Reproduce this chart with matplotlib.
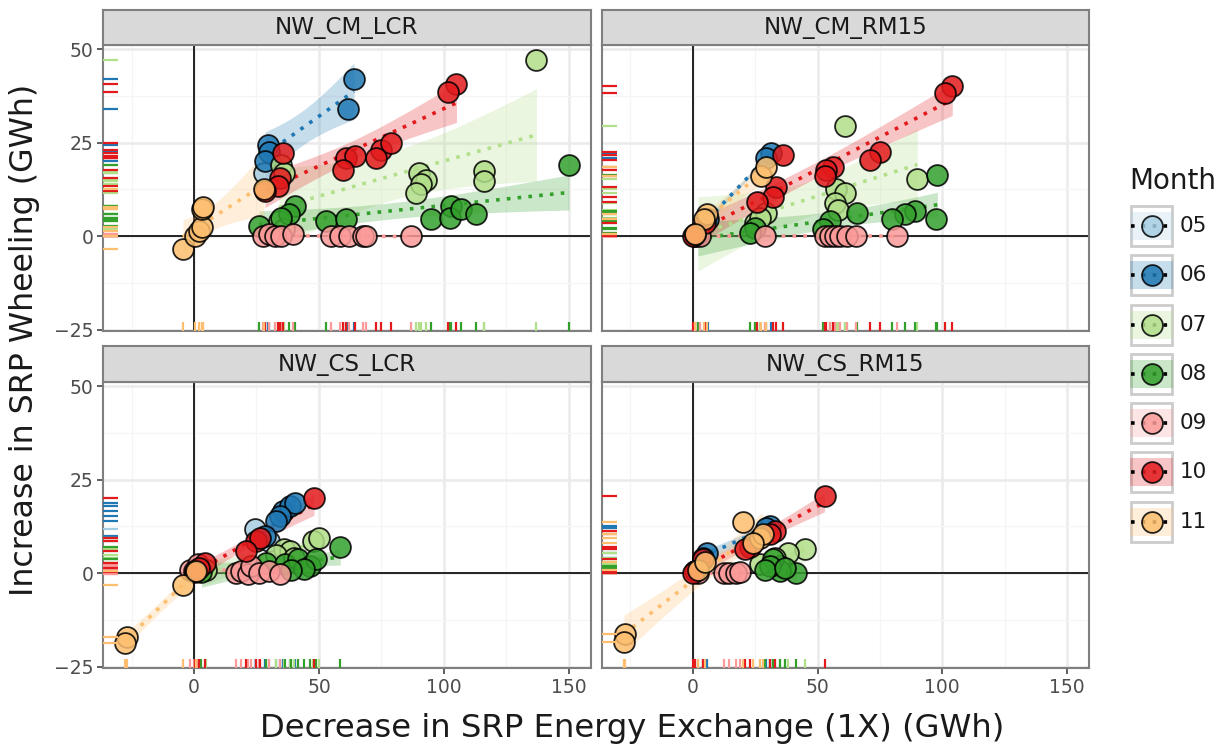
import numpy as np
import matplotlib
matplotlib.use("Agg")
import matplotlib.pyplot as plt
from matplotlib.patches import Rectangle

W, H = 1231, 746

months = ['05', '06', '07', '08', '09', '10', '11']
month_colors = ['#A6CEE3', '#1F78B4', '#B2DF8A', '#33A02C', '#FB9A99', '#E31A1C', '#FDBF6F']

panel_names = ['NW_CM_LCR', 'NW_CM_RM15', 'NW_CS_LCR', 'NW_CS_RM15']

# (decrease in energy exchange, increase in wheeling) per month, GWh
nw_cm_lcr = {
    '05': [(28, 17)],
    '06': [(64, 42), (61.5, 34), (29.5, 24.5), (30, 22.5), (28.5, 20)],
    '07': [(35, 19), (36, 17), (34, 4), (36, 2), (90, 17), (93, 15), (91, 14), (89, 11.5),
           (116, 17.4), (116, 14.7), (137, 47)],
    '08': [(26, 2.7), (40.5, 8.1), (38, 6), (35, 5), (53, 4), (61, 4.5), (95, 4.5), (103, 8),
           (102.5, 5), (107, 7.2), (113, 6), (150, 19)],
    '09': [(27.5, 0), (30, 0.5), (32.5, 0), (35, 0), (39.5, 0.5), (55, 0), (58.5, 0), (62, 0),
           (67.5, 0), (69, 0), (87, 0)],
    '10': [(105, 40.7), (101.7, 38.6), (35.7, 22.3), (34.4, 15.6), (33.7, 13.4), (28.4, 12),
           (61, 20.9), (64.4, 21.5), (59.7, 17.8), (75, 23.1), (79, 24.9), (73, 20.9)],
    '11': [(-4.4, -3.5), (0.4, 0), (2, 1.5), (3.1, 2.4), (3.1, 7.2), (3.5, 7.8), (28, 12.5)],
}

nw_cm_rm15 = {
    '05': [(1, 0)],
    '06': [(31.5, 22.3), (29.5, 21), (6, 4.5)],
    '07': [(61, 29.5), (90, 15.3), (57.5, 12.5), (61, 11.5), (57, 9), (58, 7), (25, 3.5),
           (29.5, 6.3), (27, 5), (2, 1)],
    '08': [(98, 16.3), (97.5, 4.7), (89, 6.7), (85, 6), (80, 4.5), (66, 6.1), (55, 4.1),
           (52, 2), (25, 2.3), (23, 1), (2, 0.5)],
    '09': [(1, 0), (3, 0), (28.8, 0), (53, 0), (55, 0), (57, 0), (59, 0), (62, 0), (65.5, 0),
           (82, 0)],
    '10': [(104, 40.2), (101, 38.2), (75, 22.4), (71, 20.3), (56, 18.4), (53.5, 17.8), (53, 16),
           (36, 21.7), (33.5, 13.3), (32, 10.6), (25.7, 9.1), (5, 3.6), (0, 0), (1, 0.5)],
    '11': [(27.5, 16), (29.5, 18.5), (5.5, 6), (4.5, 4.5), (1, 0.5)],
}

nw_cs_lcr = {
    '05': [(24.4, 11.7), (30, 8.6)],
    '06': [(35.7, 16.6), (38.4, 17.9), (40.5, 18.8), (34.4, 15.2), (33, 14), (28.5, 10)],
    '07': [(47.7, 8.6), (50, 9.5), (36, 6.4), (38.4, 5.9), (33, 5), (40, 4), (5, 0.8)],
    '08': [(58.5, 7), (29, 2.8), (36.5, 2.4), (41.7, 3.7), (46.4, 1.9), (49, 3.7), (44, 1.2),
           (39, 0.8), (3, 0.3)],
    '09': [(17, 0.2), (19, 0.5), (21.7, -0.3), (23, 2), (26, 0), (30, 0.5), (34.4, -0.3),
           (-1.5, 1), (1.7, 2.4), (0, 0.5)],
    '10': [(48, 20), (25, 8.6), (26.5, 9.5), (21, 6), (4.4, 2.8), (2, 1.5), (0.5, 0.3)],
    '11': [(-27, -17), (-27.5, -18.6), (-4.3, -3.2), (1, 0.5)],
}

nw_cs_rm15 = {
    '05': [(1, 0.5)],
    '06': [(31, 12.6), (29.5, 12), (5.5, 5.5), (4, 4)],
    '07': [(45, 6.4), (38, 5.5), (27, 2.4), (33, 4), (35, 2)],
    '08': [(41.5, 0.2), (35, 0.5), (32, 3.7), (31, 2), (29, 1), (37, 1.5)],
    '09': [(12.5, 0), (14.5, 0), (17.5, 0), (19, 0.3), (2, 0)],
    '10': [(52.8, 20.6), (33, 11.3), (31, 10.5), (23, 7), (21, 6.4), (4, 3.7), (0.8, 0.6), (0, 0)],
    '11': [(-27.2, -16.2), (-27.6, -18.4), (20, 13.7), (27, 9.5), (28, 10.5), (24, 8), (2, 1),
           (5, 3)],
}

panel_data = [nw_cm_lcr, nw_cm_rm15, nw_cs_lcr, nw_cs_rm15]

x_ticks = [0, 50, 100, 150]
y_ticks = [-25, 0, 25, 50]

# t quantiles (0.975) for the lm confidence band
T975 = {1: 12.706, 2: 4.303, 3: 3.182, 4: 2.776, 5: 2.571, 6: 2.447, 7: 2.365, 8: 2.306,
        9: 2.262, 10: 2.228, 11: 2.201, 12: 2.179, 13: 2.160, 14: 2.145, 15: 2.131}


def lm_band(x, y, n_grid=80):
    x = np.asarray(x, float)
    y = np.asarray(y, float)
    n = len(x)
    b, a = np.polyfit(x, y, 1)
    xs = np.linspace(x.min(), x.max(), n_grid)
    ys = a + b * xs
    if n < 3:
        return xs, ys, None
    resid = y - (a + b * x)
    s = np.sqrt(np.sum(resid ** 2) / (n - 2))
    sxx = np.sum((x - x.mean()) ** 2)
    se = s * np.sqrt(1.0 / n + (xs - x.mean()) ** 2 / sxx)
    return xs, ys, T975.get(n - 2, 2.1) * se


fig = plt.figure(figsize=(W / 100, H / 100), dpi=100)


def px_axes(x0, y0, x1, y1):
    return fig.add_axes([x0 / W, 1 - y1 / H, (x1 - x0) / W, (y1 - y0) / H])


panel_px = [(103, 45, 591, 331), (602, 45, 1089, 331),
            (103, 382, 591, 668), (602, 382, 1089, 668)]
strip_px = [(103, 10, 591, 45), (602, 10, 1089, 45),
            (103, 346, 591, 382), (602, 346, 1089, 382)]

border = '#7F7F7F'
pt_size = 225

for i, (name, data) in enumerate(zip(panel_names, panel_data)):
    ax = px_axes(*panel_px[i])
    ax.set_xlim(-36.4, 158.8)
    ax.set_ylim(-25.3, 51.1)
    ax.set_xticks(x_ticks)
    ax.set_yticks(y_ticks)
    ax.set_xticks([-25, 25, 75, 125], minor=True)
    ax.set_yticks([-12.5, 12.5, 37.5], minor=True)
    ax.grid(True, which='major', color='#EBEBEB', lw=1.8, zorder=0)
    ax.grid(True, which='minor', color='#F5F5F5', lw=0.9, zorder=0)
    ax.set_axisbelow(True)
    for sp in ax.spines.values():
        sp.set_color(border)
        sp.set_linewidth(1.5)
    ax.tick_params(which='minor', length=0)
    ax.tick_params(which='major', length=4, width=1.1, color='#333333',
                   labelsize=13.5, labelcolor='#4D4D4D', pad=3)
    if i % 2 == 1:
        ax.tick_params(axis='y', which='major', length=0, labelleft=False)
    if i < 2:
        ax.tick_params(axis='x', which='major', length=0, labelbottom=False)

    ax.axhline(0, color='black', lw=1.2, zorder=1)
    ax.axvline(0, color='black', lw=1.2, zorder=1)

    for m, c in zip(months, month_colors):
        pts = data.get(m, [])
        if len(pts) < 2:
            continue
        x = [p[0] for p in pts]
        y = [p[1] for p in pts]
        xs, ys, ci = lm_band(x, y)
        if ci is not None:
            ax.fill_between(xs, ys - ci, ys + ci, color=c, alpha=0.25, lw=0, zorder=2)
        ax.plot(xs, ys, color=c, lw=2.6, ls=(0, (1, 2)), zorder=3)

    for m, c in zip(months, month_colors):
        pts = data.get(m, [])
        if not pts:
            continue
        x = [p[0] for p in pts]
        y = [p[1] for p in pts]
        ax.scatter(x, y, s=pt_size, color=c, alpha=0.85, edgecolor='black', lw=1.3, zorder=4)
        ax.vlines(x, 0, 0.03, color=c, lw=1.6, transform=ax.get_xaxis_transform(), zorder=5)
        ax.hlines(y, 0, 0.03, color=c, lw=1.6, transform=ax.get_yaxis_transform(), zorder=5)

    sax = px_axes(*strip_px[i])
    sax.set_facecolor('#D9D9D9')
    sax.set_xticks([])
    sax.set_yticks([])
    for sp in sax.spines.values():
        sp.set_color(border)
        sp.set_linewidth(1.5)
    sax.text(0.5, 0.5, name, ha='center', va='center', fontsize=16.6, color='#1A1A1A',
             transform=sax.transAxes)

fig.text(632 / W, 1 - 728 / H, 'Decrease in SRP Energy Exchange (1X) (GWh)',
         ha='center', va='center', fontsize=23.2, color='#1A1A1A')
fig.text(25 / W, 1 - 340 / H, 'Increase in SRP Wheeling (GWh)', rotation=90,
         ha='center', va='center', fontsize=22.8, color='#1A1A1A')

# legend, drawn in pixel units
lax = px_axes(1110, 150, 1231, 560)
lax.set_xlim(1110, 1231)
lax.set_ylim(560, 150)
lax.axis('off')
lax.text(1129, 181, 'Month', ha='left', va='center', fontsize=20, color='#1A1A1A')
for k, (m, c) in enumerate(zip(months, month_colors)):
    cy = 226 + 49.3 * k
    lax.add_patch(Rectangle((1131, cy - 20), 41, 40, facecolor='white', edgecolor='#CCCCCC', lw=2))
    lax.add_patch(Rectangle((1130, cy - 14), 43, 28, facecolor=c, alpha=0.25, lw=0))
    lax.plot([1131, 1172], [cy, cy], color='black', lw=2.6, ls=(0, (1, 2)))
    lax.scatter([1151.5], [cy], s=pt_size, color=c, alpha=0.85, edgecolor='black', lw=1.3, zorder=4)
    lax.text(1180, cy, m, ha='left', va='center', fontsize=15.5, color='#1A1A1A')

fig.savefig('out.png', dpi=100)
